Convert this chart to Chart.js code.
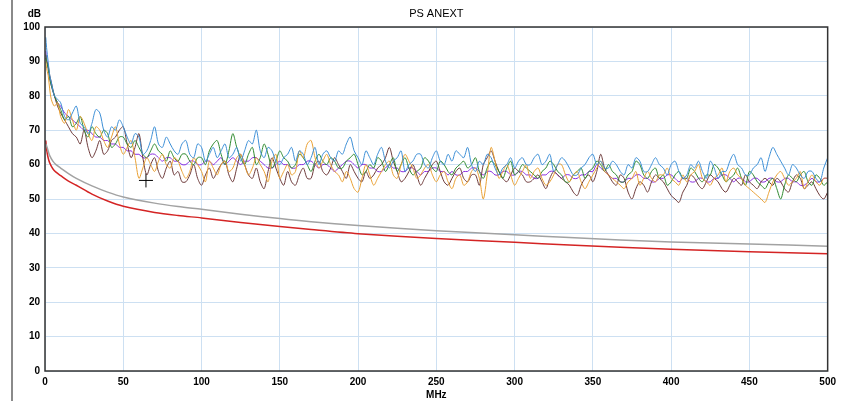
<!DOCTYPE html>
<html>
<head>
<meta charset="utf-8">
<script src="https://cdn.jsdelivr.net/npm/chart.js@4/dist/chart.umd.min.js"></script>
<style>
  html, body { margin: 0; padding: 0; background: #fff; }
  #wrap { position: relative; width: 841px; height: 401px; overflow: hidden; }
  #edge { position: absolute; left: 11px; top: 0; width: 2px; height: 401px; background: #8a8a8a; }
  canvas { position: absolute; left: 0; top: 0; }
</style>
</head>
<body>
<div id="wrap"><div id="edge"></div><canvas id="c" width="841" height="401"></canvas></div>
<script>
const TITLE = 'PS ANEXT';
const Y_UNIT = 'dB';
const X_UNIT = 'MHz';

const freqs = [0.5,1,2,3,4,6,8,
  10,12.5,15,17.5,20,22.5,25,27.5,30,32.5,35,37.5,40,42.5,45,47.5,50,52.5,55,57.5,
  60,62.5,65,67.5,70,72.5,75,77.5,80,82.5,85,87.5,90,92.5,95,97.5,100,102.5,105,107.5,
  110,112.5,115,117.5,120,122.5,125,127.5,130,132.5,135,137.5,140,142.5,145,147.5,150,152.5,155,157.5,
  160,162.5,165,167.5,170,172.5,175,177.5,180,182.5,185,187.5,190,192.5,195,197.5,200,202.5,205,207.5,
  210,212.5,215,217.5,220,222.5,225,227.5,230,232.5,235,237.5,240,242.5,245,247.5,250,252.5,255,257.5,
  260,262.5,265,267.5,270,272.5,275,277.5,280,282.5,285,287.5,290,292.5,295,297.5,300,302.5,305,307.5,
  310,312.5,315,317.5,320,322.5,325,327.5,330,332.5,335,337.5,340,342.5,345,347.5,350,352.5,355,357.5,
  360,362.5,365,367.5,370,372.5,375,377.5,380,382.5,385,387.5,390,392.5,395,397.5,400,402.5,405,407.5,
  410,412.5,415,417.5,420,422.5,425,427.5,430,432.5,435,437.5,440,442.5,445,447.5,450,452.5,455,457.5,
  460,462.5,465,467.5,470,472.5,475,477.5,480,482.5,485,487.5,490,492.5,495,497.5,500];

const blue = [97,94,90,86,84,80,79,
  78,74,73,75,77,72,71,69,72,76,75,70,68,71,70,73,71,68,66,69,
  68,63,64,67,71,66,65,68,66,64,63,66,67,63,62,66,65,61,63,65,
  62,64,66,62,63,65,61,64,67,66,70,64,62,65,64,61,60,62,63,65,
  61,64,63,60,62,65,60,63,64,62,61,64,63,66,68,64,62,60,64,62,
  60,63,65,61,59,61,62,64,58,60,61,63,63,60,59,62,64,61,60,63,
  61,64,63,62,65,60,58,61,60,63,62,59,57,59,60,62,59,61,62,60,
  60,62,63,60,61,63,58,60,62,61,59,57,57,59,60,62,63,60,61,59,
  59,61,60,58,57,60,59,62,61,58,58,60,62,60,59,57,60,61,58,56,
  57,60,59,61,58,56,61,59,56,58,58,61,63,60,59,57,57,59,60,62,
  58,62,65,63,61,59,57,60,59,57,56,58,58,56,55,59,62];

const green = [92,90,88,85,83,80,78,
  76,73,74,71,72,74,70,68,71,69,68,70,69,65,66,68,68,66,65,67,
  65,63,62,64,66,64,63,61,64,62,61,63,63,61,60,62,62,60,64,66,
  67,63,60,64,69,65,62,60,63,65,60,62,66,63,59,61,64,62,61,59,
  60,63,62,60,58,61,63,61,60,62,61,59,59,61,62,63,60,57,58,60,
  59,62,61,58,60,62,58,60,62,59,57,58,59,62,61,59,58,61,60,58,
  57,59,60,61,59,60,62,58,56,59,61,60,58,56,59,61,57,58,60,59,
  58,57,56,58,59,61,60,58,57,55,55,57,58,59,56,58,59,61,60,58,
  60,58,57,55,55,57,58,61,60,57,56,58,59,56,57,54,55,57,58,56,
  56,59,58,56,55,57,57,60,59,57,55,56,57,59,56,54,58,57,55,54,
  53,55,56,53,50,54,57,56,55,57,58,55,54,57,56,54,55];

const orange = [90,88,86,82,79,77,78,
  74,72,76,73,70,74,72,69,67,71,70,67,65,68,71,66,63,65,67,62,
  56,59,62,60,58,61,63,60,59,62,61,58,56,58,62,60,58,55,61,59,
  57,60,61,58,59,62,63,60,57,59,62,60,58,55,61,63,56,58,60,57,
  58,64,62,66,67,62,59,61,63,60,58,57,55,58,56,53,52,56,60,57,
  54,56,58,60,61,57,56,60,63,61,59,56,57,59,60,57,55,57,58,55,
  53,56,57,54,55,58,59,56,50,57,65,61,56,58,60,57,54,56,58,60,
  56,58,59,56,54,55,57,60,60,57,55,57,58,55,53,55,57,59,61,58,
  57,56,55,54,53,55,56,58,54,56,58,56,55,57,57,59,56,55,54,57,
  55,57,58,60,56,55,54,56,57,59,55,58,59,57,56,54,53,52,51,50,
  49,52,55,57,58,56,54,55,56,58,53,55,57,55,54,56,56];

const brown = [91,90,89,86,84,80,77,
  75,73,71,69,68,66,70,65,62,64,67,63,64,67,68,70,71,66,62,65,
  69,62,57,60,62,58,56,59,61,57,58,55,55,57,60,56,54,57,59,56,
  58,60,61,57,55,59,63,60,57,56,59,55,53,58,62,59,56,54,58,55,
  54,57,59,56,56,60,61,58,57,59,62,60,58,56,60,58,56,55,58,56,
  57,59,60,62,65,61,58,55,56,58,60,57,54,56,58,60,61,58,55,54,
  56,58,59,56,55,57,57,54,60,62,64,61,58,56,55,57,59,58,57,55,
  55,56,57,55,53,56,58,57,56,55,54,52,51,54,56,57,55,58,63,59,
  57,55,54,57,56,52,50,53,55,54,52,55,57,56,55,53,51,50,49,52,
  54,57,56,54,53,55,57,56,55,53,52,54,56,55,54,57,55,54,53,55,
  56,55,54,56,55,53,52,55,57,56,53,54,55,53,51,50,52];

const purple = [93,91,88,85,83,80,78,
  77,75,74,73,72,71,70,70,69,68,68,67,67,66,66,65,65,64,64,63,
  63,62,62,63,63,62,61,62,62,61,61,60,60,61,61,60,60,61,61,60,
  61,62,60,61,62,61,60,61,61,62,62,61,60,59,59,60,61,60,60,59,
  59,60,60,61,61,60,59,60,60,59,58,59,60,61,61,60,59,60,60,59,
  59,58,58,59,60,59,59,58,58,59,59,58,57,58,58,59,59,58,58,57,
  58,57,57,58,58,59,59,58,57,58,58,57,57,58,58,57,57,58,58,57,
  57,56,56,57,57,58,58,57,56,57,57,56,56,57,57,58,58,60,59,58,
  57,56,56,55,55,56,56,57,57,56,56,55,55,56,56,57,57,56,55,56,
  56,55,55,56,56,55,55,56,56,57,57,56,55,56,56,55,55,56,56,55,
  55,56,56,55,55,56,56,55,55,54,54,55,56,55,55,56,56];

const limitFreqs = [0.5,1,2,3,5,7,10,15,20,30,40,50,70,85,100,125,150,170,200,250,300,335,400,450,500];
const grayLimit = [66,65.5,64,62.6,61,60,59,57.4,56,53.8,52,50.6,48.8,47.8,47,45.6,44.3,43.4,42.3,40.8,39.6,38.8,37.5,36.9,36.3];
const redLimit  = [67,64.5,62,60.5,58.8,57.8,56.8,55.2,54,51.4,49.4,47.9,46.1,45.2,44.5,43.2,42.0,41.1,39.9,38.5,37.4,36.6,35.4,34.7,34.1];

const markerFreq = [64.5];
const markerDb = [55.4];

const xTicks = [0,50,100,150,200,250,300,350,400,450,500];
const yTicks = [0,10,20,30,40,50,60,70,80,90,100];

function pts(xs, ys) {
  const n = Math.min(xs.length, ys.length);
  const out = [];
  for (let i = 0; i < n; i++) out.push({ x: xs[i], y: ys[i] });
  return out;
}

function series(label, xs, ys, color, width) {
  return { label, data: pts(xs, ys), borderColor: color, backgroundColor: color,
    borderWidth: width, pointRadius: 0, tension: 0.3, fill: false };
}

const framePlugin = {
  id: 'frameText',
  afterDraw(chart) {
    const { ctx, chartArea: a } = chart;
    ctx.save();
    ctx.strokeStyle = '#333';
    ctx.lineWidth = 1.5;
    ctx.strokeRect(a.left, a.top, a.right - a.left, a.bottom - a.top);
    ctx.fillStyle = '#000';
    ctx.font = '11px "Liberation Sans", Arial, sans-serif';
    ctx.textAlign = 'center';
    ctx.textBaseline = 'middle';
    ctx.fillText(TITLE, (a.left + a.right) / 2, a.top - 13);
    ctx.font = 'bold 10px "Liberation Sans", Arial, sans-serif';
    ctx.textAlign = 'right';
    ctx.fillText(Y_UNIT, a.left - 4, a.top - 13);
    ctx.restore();
  }
};

new Chart(document.getElementById('c'), {
  type: 'line',
  data: {
    datasets: [
      series('Pair 1', freqs, blue, '#3d8fd6', 1),
      series('Pair 2', freqs, orange, '#e9a135', 1),
      series('Pair 3', freqs, green, '#2f8a30', 1),
      series('Pair 4', freqs, brown, '#6e3b3b', 1),
      series('Pair 5', freqs, purple, '#8b2fe0', 1),
      series('Limit A', limitFreqs, grayLimit, '#a2a2a2', 1.5),
      series('Limit B', limitFreqs, redLimit, '#d42424', 1.5),
      { label: 'Marker', data: pts(markerFreq, markerDb), showLine: false,
        pointStyle: 'cross', pointRadius: 7, borderColor: '#000', borderWidth: 1,
        backgroundColor: '#000' }
    ]
  },
  options: {
    responsive: false,
    animation: false,
    layout: { padding: { top: 27, right: 13, left: 0, bottom: 0 } },
    plugins: { legend: { display: false }, tooltip: { enabled: false }, title: { display: false } },
    scales: {
      x: {
        type: 'linear', min: 0, max: 500,
        afterBuildTicks: s => { s.ticks = xTicks.map(v => ({ value: v })); },
        afterFit: s => { s.height = 30; },
        grid: { color: '#cde0f2', drawTicks: false, lineWidth: 1 },
        border: { display: false },
        ticks: { color: '#000', padding: 5, maxRotation: 0, autoSkip: false,
          font: { family: '"Liberation Sans", Arial, sans-serif', size: 10, weight: 'bold' } },
        title: { display: true, text: X_UNIT, color: '#000', padding: 0,
          font: { family: '"Liberation Sans", Arial, sans-serif', size: 10, weight: 'bold' } }
      },
      y: {
        type: 'linear', min: 0, max: 100,
        afterBuildTicks: s => { s.ticks = yTicks.map(v => ({ value: v })); },
        afterFit: s => { s.width = 45; },
        grid: { color: '#cde0f2', drawTicks: false, lineWidth: 1 },
        border: { display: false },
        ticks: { color: '#000', padding: 5, autoSkip: false,
          font: { family: '"Liberation Sans", Arial, sans-serif', size: 10, weight: 'bold' } }
      }
    }
  },
  plugins: [framePlugin]
});
</script>
</body>
</html>
